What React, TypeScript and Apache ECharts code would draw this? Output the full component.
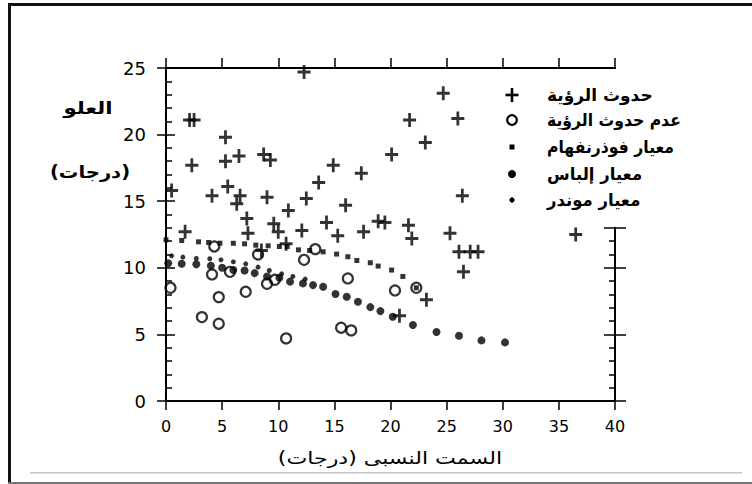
import React, { useEffect, useRef } from "react";
import * as echarts from "echarts";

// ---- Data ----
const visibleX = [12.3, 2.1, 2.5, 5.3, 2.3, 5.3, 6.5, 8.7, 9.3, 0.5, 4.1, 5.5, 6.6, 6.3, 9.0, 12.5, 10.9, 13.6, 14.9, 17.4, 20.1, 21.7, 26.0, 24.7, 23.1, 26.4, 16.0, 7.2, 7.3, 9.6, 10.0, 1.7, 12.1, 14.3, 15.3, 17.6, 18.9, 19.5, 21.6, 21.9, 25.3, 26.1, 27.1, 27.8, 26.5, 36.5, 23.2, 20.8, 8.5, 10.7];
const visibleY = [24.7, 21.1, 21.1, 19.8, 17.7, 18.0, 18.4, 18.5, 18.1, 15.8, 15.4, 16.1, 15.4, 14.8, 15.3, 15.2, 14.3, 16.4, 17.7, 17.1, 18.5, 21.1, 21.2, 23.1, 19.4, 15.4, 14.7, 13.7, 12.6, 13.3, 12.7, 12.7, 12.8, 13.4, 12.4, 12.7, 13.5, 13.4, 13.2, 12.2, 12.6, 11.2, 11.2, 11.2, 9.7, 12.5, 7.6, 6.4, 11.3, 11.8];

const notVisibleX = [0.4, 4.3, 4.1, 5.7, 4.7, 3.2, 4.7, 7.1, 8.2, 9.0, 9.7, 10.7, 12.3, 13.3, 16.2, 15.6, 16.5, 20.4, 22.3];
const notVisibleY = [8.5, 11.6, 9.5, 9.7, 7.8, 6.3, 5.8, 8.2, 11.0, 8.8, 9.1, 4.7, 10.6, 11.4, 9.2, 5.5, 5.3, 8.3, 8.5];

const fothX = [0, 1.4, 2.9, 3.8, 4.8, 6.0, 7.0, 8.0, 9.1, 10.1, 10.8, 11.8, 12.8, 14.0, 15.2, 16.2, 17.0, 18.2, 18.9, 20.1, 21.1, 22.3];
const fothY = [12.1, 12.05, 11.95, 11.9, 11.85, 11.84, 11.8, 11.7, 11.65, 11.6, 11.6, 11.35, 11.3, 11.2, 11.03, 10.83, 10.55, 10.38, 10.13, 9.83, 9.35, 8.5];

const eliasX = [0.2, 1.4, 2.7, 4.0, 5.0, 6.0, 7.0, 7.9, 9.0, 10.1, 11.05, 12.2, 13.1, 14.0, 15.1, 16.1, 17.1, 18.2, 19.1, 20.2, 22.0, 24.1, 26.1, 28.1, 30.2];
const eliasY = [10.34, 10.3, 10.26, 10.15, 10.0, 9.83, 9.8, 9.6, 9.35, 9.25, 8.96, 8.83, 8.7, 8.58, 8.03, 7.83, 7.45, 7.05, 6.75, 6.33, 5.7, 5.18, 4.9, 4.55, 4.4];

const mondarX = [0.5, 1.5, 2.7, 3.9, 4.9, 6.0, 7.1, 8.2, 9.2, 10.3, 11.3, 12.4];
const mondarY = [10.9, 10.8, 10.7, 10.68, 10.6, 10.45, 10.3, 10.05, 9.8, 9.55, 9.35, 9.15];

const legendLabels = [
  "حدوث الرؤية",
  "عدم حدوث الرؤية",
  "معيار فوذرنفهام",
  "معيار إلباس",
  "معيار موندر",
];
const yTitle1 = "العلو";
const yTitle2 = "(درجات)";
const xTitle = "السمت النسبى (درجات)";

// axis ranges
const X_MIN = 0, X_MAX = 40, Y_MIN = 0, Y_MAX = 25, RIGHT_AXIS_TOP = 13;

const pair = (xs: number[], ys: number[]) => xs.map((x, i) => [x, ys[i]]);

// layout
const GRID_LEFT = 166, GRID_TOP = 68, GRID_W = 449, GRID_H = 333;
const RIGHT_TOP = GRID_TOP + GRID_H * (1 - RIGHT_AXIS_TOP / Y_MAX);

const PLUS = "path://M5.5,0H8.5V5.5H14V8.5H8.5V14H5.5V8.5H0V5.5H5.5Z";
const INK = "#000";
const NUMFONT = "DejaVu Sans";
const ARFONT = "DejaVu Sans";
const legendScale = [1.0, 0.92, 0.92, 0.97, 0.97];

const mkLine = () => ({ show: true, onZero: false, lineStyle: { color: INK, width: 2 } });

export default function App() {
  const ref = useRef<HTMLDivElement>(null);
  useEffect(() => {
    if (!ref.current) return;
    const chart = echarts.init(ref.current, null, { renderer: "svg" });

    const legendX = 512;
    const legendTextX = 547;
    const legendYs = [95, 120, 147, 174, 200];

    const legendGraphics: any[] = [
      {
        type: "group",
        children: [
          { type: "rect", shape: { x: legendX - 6.5, y: legendYs[0] - 1.3, width: 13, height: 2.6 }, style: { fill: INK } },
          { type: "rect", shape: { x: legendX - 1.3, y: legendYs[0] - 7, width: 2.6, height: 14 }, style: { fill: INK } },
        ],
      },
      { type: "circle", shape: { cx: legendX, cy: legendYs[1], r: 4.8 }, style: { fill: "#fff", stroke: INK, lineWidth: 2.2 } },
      { type: "rect", shape: { x: legendX - 2.5, y: legendYs[2] - 2.5, width: 5, height: 5 }, style: { fill: INK } },
      { type: "circle", shape: { cx: legendX, cy: legendYs[3], r: 4 }, style: { fill: INK } },
      { type: "circle", shape: { cx: legendX, cy: legendYs[4], r: 2.6 }, style: { fill: INK } },
    ];
    legendLabels.forEach((t, i) => {
      legendGraphics.push({
        type: "text",
        x: legendTextX,
        y: legendYs[i],
        scaleX: legendScale[i],
        style: {
          text: t,
          fill: INK,
          font: `bold 17px "${ARFONT}"`,
          align: "left",
          verticalAlign: "middle",
        },
      });
    });

    const frame: any[] = [
      { type: "rect", shape: { x: 8, y: 3, width: 744, height: 3 }, style: { fill: "#111" } },
      { type: "rect", shape: { x: 8, y: 3, width: 3, height: 481 }, style: { fill: "#111" } },
      { type: "rect", shape: { x: 8, y: 482, width: 744, height: 2 }, style: { fill: "#777" } },
      { type: "rect", shape: { x: 30, y: 472, width: 712, height: 1.5 }, style: { fill: "#c4c4c4" } },
      // plot frame (left, bottom, top, partial right) at the grid's edges
      { type: "rect", z: 100, silent: true, shape: { x: GRID_LEFT - 1, y: GRID_TOP - 1, width: 2, height: GRID_H + 2 }, style: { fill: INK } },
      { type: "rect", z: 100, silent: true, shape: { x: GRID_LEFT - 1, y: GRID_TOP + GRID_H - 1, width: GRID_W + 2, height: 2 }, style: { fill: INK } },
      { type: "rect", z: 100, silent: true, shape: { x: GRID_LEFT - 1, y: GRID_TOP - 1, width: GRID_W + 2, height: 2 }, style: { fill: INK } },
      { type: "rect", z: 100, silent: true, shape: { x: GRID_LEFT + GRID_W - 1, y: RIGHT_TOP, width: 2, height: GRID_TOP + GRID_H - RIGHT_TOP + 1 }, style: { fill: INK } },
    ];

    const titles: any[] = [
      { type: "text", x: 88, y: 108, scaleX: 1.25, style: { text: yTitle1, fill: INK, font: `bold 17px "${ARFONT}"`, align: "center", verticalAlign: "middle" } },
      { type: "text", x: 90, y: 172, scaleX: 1.15, style: { text: yTitle2, fill: INK, font: `bold 17px "${ARFONT}"`, align: "center", verticalAlign: "middle" } },
      { type: "text", x: 390, y: 458, scaleX: 1.3, style: { text: xTitle, fill: INK, font: `17px "${ARFONT}"`, align: "center", verticalAlign: "middle" } },
    ];

    chart.setOption({
      animation: false,
      backgroundColor: "#fff",
      grid: [
        { left: GRID_LEFT, top: GRID_TOP, width: GRID_W, height: GRID_H },
        { left: GRID_LEFT + GRID_W, top: RIGHT_TOP, width: 10, height: GRID_TOP + GRID_H - RIGHT_TOP },
      ],
      xAxis: [
        {
          type: "value", gridIndex: 0, position: "bottom", min: X_MIN, max: X_MAX, interval: 5,
          axisLine: mkLine(), splitLine: { show: false },
          axisTick: { show: true, inside: false, length: 9, lineStyle: { color: INK, width: 1.5 } },
          axisLabel: { show: true, margin: 17, color: INK, fontSize: 16, fontFamily: NUMFONT },
        },
        {
          type: "value", gridIndex: 0, position: "top", min: X_MIN, max: X_MAX, interval: 5,
          axisLine: mkLine(), splitLine: { show: false },
          axisTick: { show: true, inside: false, length: 10, lineStyle: { color: INK, width: 1.5 } },
          axisLabel: { show: false },
        },
        {
          type: "value", gridIndex: 1, min: 0, max: 1, show: false,
        },
      ],
      yAxis: [
        {
          type: "value", gridIndex: 0, position: "left", min: Y_MIN, max: Y_MAX, interval: 5,
          axisLine: mkLine(), splitLine: { show: false },
          axisTick: { show: true, inside: false, length: 9, lineStyle: { color: INK, width: 1.5 } },
          axisLabel: { show: true, margin: 20, color: INK, fontSize: 18, fontFamily: NUMFONT },
        },
        {
          type: "value", gridIndex: 0, position: "left", offset: 0, min: Y_MIN, max: Y_MAX, interval: 5,
          axisLine: { show: false, onZero: false }, splitLine: { show: false },
          axisTick: { show: true, inside: true, length: 9, lineStyle: { color: INK, width: 1.5 } },
          minorTick: { show: true, splitNumber: 5, length: 6, lineStyle: { color: INK, width: 1.5 } },
          axisLabel: { show: false },
        },
        {
          type: "value", gridIndex: 1, position: "left", min: 0, max: RIGHT_AXIS_TOP, interval: 5,
          axisLine: mkLine(), splitLine: { show: false },
          axisTick: { show: true, inside: false, length: 11, lineStyle: { color: INK, width: 1.5 } },
          minorTick: { show: true, splitNumber: 5, length: 6, lineStyle: { color: INK, width: 1.5 } },
          axisLabel: { show: false },
        },
        {
          type: "value", gridIndex: 1, position: "left", offset: 0, min: 0, max: RIGHT_AXIS_TOP, interval: 5,
          axisLine: { show: false, onZero: false }, splitLine: { show: false },
          axisTick: { show: true, inside: true, length: 11, lineStyle: { color: INK, width: 1.5 } },
          axisLabel: { show: false },
        },
      ],
      graphic: [...frame, ...titles, ...legendGraphics],
      series: [
        {
          name: legendLabels[2], type: "scatter", xAxisIndex: 0, yAxisIndex: 0,
          symbol: "rect", symbolSize: 5, itemStyle: { color: INK },
          data: pair(fothX, fothY),
        },
        {
          name: legendLabels[3], type: "scatter", xAxisIndex: 0, yAxisIndex: 0,
          symbol: "circle", symbolSize: 8, itemStyle: { color: INK },
          data: pair(eliasX, eliasY),
        },
        {
          name: legendLabels[4], type: "scatter", xAxisIndex: 0, yAxisIndex: 0,
          symbol: "circle", symbolSize: 5, itemStyle: { color: INK },
          data: pair(mondarX, mondarY),
        },
        {
          name: legendLabels[1], type: "scatter", xAxisIndex: 0, yAxisIndex: 0,
          symbol: "circle", symbolSize: 10,
          itemStyle: { color: "rgba(255,255,255,0)", borderColor: INK, borderWidth: 2.2 },
          data: pair(notVisibleX, notVisibleY),
        },
        {
          name: legendLabels[0], type: "scatter", xAxisIndex: 0, yAxisIndex: 0,
          symbol: PLUS, symbolSize: [13, 14], itemStyle: { color: INK },
          data: pair(visibleX, visibleY),
        },
      ],
    });

    return () => chart.dispose();
  }, []);

  return (
    <div
      ref={ref}
      style={{ position: "fixed", left: 0, top: 0, width: 752, height: 484, background: "#fff" }}
    />
  );
}
